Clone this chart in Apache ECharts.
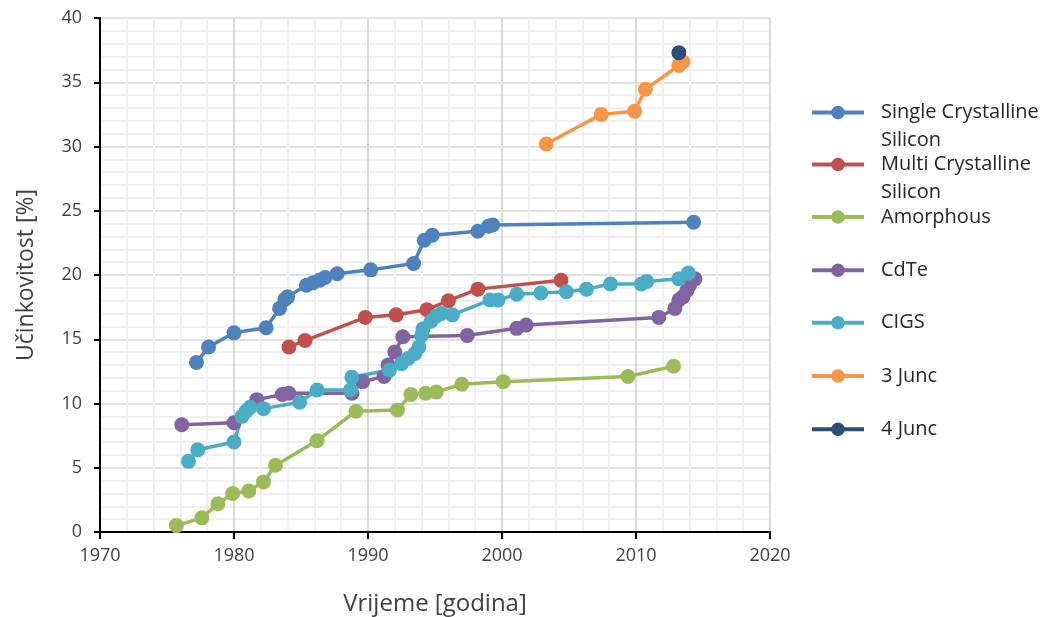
<!DOCTYPE html>
<html>
<head>
<meta charset="utf-8">
<script src="https://cdn.jsdelivr.net/npm/echarts@6/dist/echarts.min.js"></script>
<style>html,body{margin:0;padding:0;background:#fff}#c{width:1040px;height:617px}</style>
</head>
<body>
<div id="c"></div>
<script>
// ---- data ----
const seriesNames = ['Single Crystalline\nSilicon', 'Multi Crystalline\nSilicon', 'Amorphous', 'CdTe', 'CIGS', '3 Junc', '4 Junc'];
const seriesColors = ['#4F81BD', '#C0504D', '#9BBB59', '#8064A2', '#4BACC6', '#F79646', '#2C4D75'];

const scYears = [1977.2, 1978.1, 1980.0, 1982.4, 1983.4, 1983.8, 1984.0, 1985.4, 1985.9, 1986.4, 1986.8, 1987.7, 1990.2, 1993.4, 1994.2, 1994.8, 1998.2, 1999.0, 1999.3, 2014.3];
const scValues = [13.2, 14.4, 15.5, 15.9, 17.4, 18.1, 18.3, 19.2, 19.4, 19.6, 19.8, 20.1, 20.4, 20.9, 22.7, 23.1, 23.4, 23.8, 23.9, 24.1];

const mcYears = [1984.1, 1985.3, 1989.8, 1992.1, 1994.4, 1996.0, 1998.2, 2004.4];
const mcValues = [14.4, 14.9, 16.7, 16.9, 17.3, 18.0, 18.9, 19.6];

const amYears = [1975.7, 1977.6, 1978.8, 1979.9, 1981.1, 1982.2, 1983.1, 1986.2, 1989.1, 1992.2, 1993.2, 1994.3, 1995.1, 1997.0, 2000.1, 2009.4, 2012.8];
const amValues = [0.5, 1.1, 2.2, 3.0, 3.2, 3.9, 5.2, 7.1, 9.4, 9.5, 10.7, 10.8, 10.9, 11.5, 11.7, 12.1, 12.9];

const cdYears = [1976.1, 1980.0, 1981.7, 1983.6, 1984.1, 1988.8, 1989.6, 1991.2, 1991.5, 1992.0, 1992.6, 1997.4, 2001.1, 2001.8, 2011.7, 2012.9, 2013.2, 2013.5, 2013.8, 2014.0, 2014.4];
const cdValues = [8.35, 8.5, 10.3, 10.7, 10.8, 10.8, 11.7, 12.1, 13.0, 14.0, 15.2, 15.3, 15.85, 16.1, 16.7, 17.4, 18.05, 18.3, 18.8, 19.2, 19.7];

const ciYears = [1976.6, 1977.3, 1980.0, 1980.6, 1980.9, 1981.2, 1982.2, 1984.9, 1986.2, 1988.7, 1988.8, 1991.6, 1992.5, 1993.0, 1993.5, 1993.8, 1994.0, 1994.1, 1994.7, 1995.1, 1995.5, 1996.3, 1999.1, 1999.7, 2001.1, 2002.9, 2004.8, 2006.3, 2008.1, 2010.4, 2010.8, 2013.2, 2013.9];
const ciValues = [5.5, 6.4, 7.0, 9.0, 9.4, 9.7, 9.6, 10.1, 11.05, 11.05, 12.05, 12.6, 13.1, 13.5, 13.9, 14.4, 15.3, 15.8, 16.4, 16.8, 17.0, 16.9, 18.05, 18.05, 18.5, 18.6, 18.7, 18.9, 19.3, 19.3, 19.5, 19.7, 20.15];

const j3Years = [2003.3, 2007.4, 2009.9, 2010.7, 2013.2, 2013.5];
const j3Values = [30.2, 32.5, 32.75, 34.45, 36.3, 36.6];

const j4Years = [2013.2];
const j4Values = [37.3];

const xTicks = {min: 1970, max: 2020, step: 10};
const yTicks = {min: 0, max: 40, step: 5};

// ---- build ----
const allYears = [scYears, mcYears, amYears, cdYears, ciYears, j3Years, j4Years];
const allValues = [scValues, mcValues, amValues, cdValues, ciValues, j3Values, j4Values];
const FONT = 'Open Sans';
const legendCenters = [112.5, 164.5, 217, 270.3, 322.7, 376, 429.3];

const series = seriesNames.map((n, i) => ({
  name: n,
  type: 'line',
  data: allYears[i].map((y, k) => [y, allValues[i][k]]),
  symbol: 'circle',
  symbolSize: 15,
  showSymbol: true,
  showAllSymbol: true,
  lineStyle: {width: 3.5, color: seriesColors[i]},
  itemStyle: {color: seriesColors[i]},
  emphasis: {disabled: true}
}));

const LH = 28;
const legends = seriesNames.map((n, i) => {
  const two = n.indexOf('\n') >= 0;
  return {
    orient: 'vertical',
    left: 810,
    top: two ? legendCenters[i] - 1.5 * LH : legendCenters[i] - 12,
    padding: 0,
    itemWidth: 52,
    itemHeight: 17,
    selectedMode: false,
    lineStyle: {width: 4},
    formatter: two ? (name => '\n' + name) : (name => name),
    data: [{
      name: n,
      textStyle: two ? {padding: [0, 0, 0, 12], lineHeight: LH} : {padding: [0, 0, 0, 12], lineHeight: 24}
    }],
    textStyle: {fontFamily: FONT, fontSize: 20, color: '#262626'}
  };
});

const chart = echarts.init(document.getElementById('c'), null, {renderer: 'canvas'});
chart.setOption({
  animation: false,
  backgroundColor: '#fff',
  grid: {left: 100, right: 270, top: 18, bottom: 85, containLabel: false, outerBoundsMode: 'none'},
  legend: legends,
  xAxis: {
    type: 'value', min: xTicks.min, max: xTicks.max, interval: xTicks.step,
    name: 'Vrijeme [godina]', nameLocation: 'middle', nameGap: 60,
    nameTextStyle: {fontFamily: FONT, fontSize: 24, color: '#404040'},
    axisLine: {lineStyle: {color: '#000', width: 2}},
    axisTick: {show: true, length: 7, lineStyle: {color: '#000', width: 2}},
    axisLabel: {fontFamily: FONT, fontSize: 18, color: '#404040', margin: 15, formatter: v => String(v)},
    splitLine: {show: true, lineStyle: {color: '#d9d9d9', width: 2}},
    minorTick: {show: false, splitNumber: 5},
    minorSplitLine: {show: true, lineStyle: {color: '#f0f0f0', width: 2}}
  },
  yAxis: {
    type: 'value', min: yTicks.min, max: yTicks.max, interval: yTicks.step,
    name: 'Učinkovitost [%]', nameLocation: 'middle', nameGap: 62,
    nameTextStyle: {fontFamily: FONT, fontSize: 23, color: '#404040'},
    axisLine: {show: true, lineStyle: {color: '#000', width: 2}},
    axisTick: {show: true, length: 6, lineStyle: {color: '#000', width: 2}},
    axisLabel: {fontFamily: FONT, fontSize: 18, color: '#404040', margin: 18},
    splitLine: {show: true, lineStyle: {color: '#e2e2e2', width: 2}},
    minorTick: {show: false, splitNumber: 5},
    minorSplitLine: {show: true, lineStyle: {color: '#f0f0f0', width: 2}}
  },
  series: series
});
</script>
</body>
</html>
